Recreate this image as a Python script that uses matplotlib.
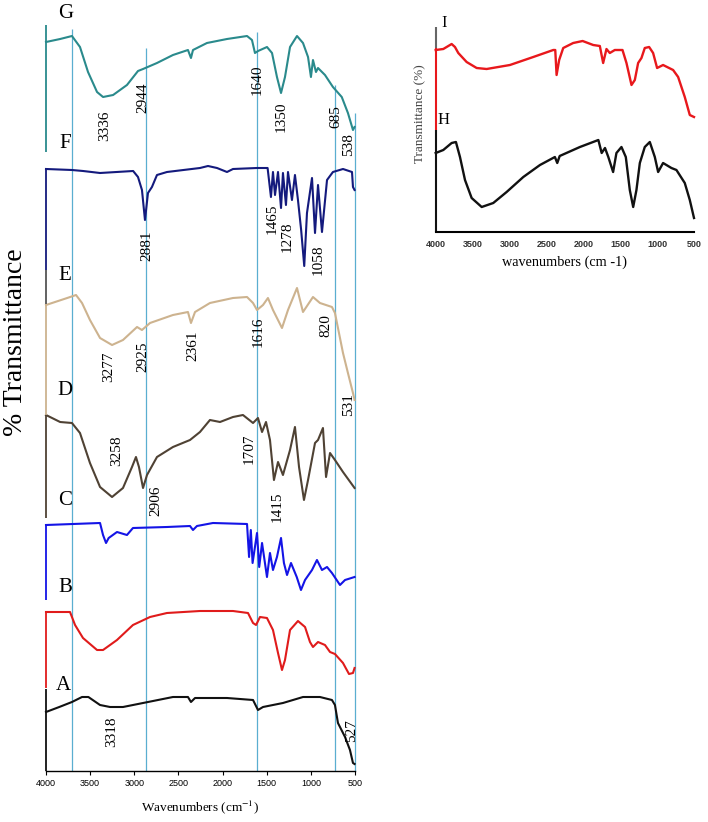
import matplotlib.pyplot as plt

plt.rcParams['mathtext.fontset'] = 'stix'
serif = 'Liberation Serif'
sans = 'Liberation Sans'

# ---- spectra A-G (wavenumber, relative transmittance) ----
w_G = [4000, 3840, 3706, 3615, 3524, 3422, 3354, 3240, 3083, 2958, 2901, 2743, 2562, 2392, 2358, 2335,
       2177, 1950, 1723, 1667, 1633, 1598, 1497, 1440, 1384, 1338, 1293, 1236, 1157, 1089, 1032, 999,
       976, 942, 919, 840, 750, 650, 580, 523, 505]
t_G = [110, 113, 116, 105, 80, 60, 55, 57, 67, 81, 83, 89, 97, 102, 94, 102,
       109, 113, 116, 112, 99, 101, 105, 99, 75, 59, 75, 105, 116, 109, 95, 75,
       92, 80, 84, 77, 65, 55, 39, 22, 25]

w_F = [4000, 3706, 3580, 3388, 3013, 2958, 2913, 2879, 2845, 2800, 2743, 2630, 2256, 2165, 2063, 1950,
       1882, 1610, 1490, 1452, 1429, 1406, 1372, 1338, 1316, 1282, 1259, 1214, 1180, 1146, 1110, 1075,
       1044, 987, 953, 919, 874, 817, 750, 636, 534, 523, 505]
t_F = [101, 100, 99, 97, 99, 93, 80, 50, 77, 83, 95, 98, 102, 104, 102, 98,
       101, 102, 102, 73, 98, 75, 98, 62, 97, 65, 98, 70, 95, 70, 40, 4,
       57, 92, 37, 85, 38, 90, 98, 101, 98, 83, 80]

w_E = [4000, 3760, 3660, 3592, 3502, 3388, 3252, 3128, 2969, 2913, 2822, 2562, 2392, 2358, 2312, 2143,
       1882, 1723, 1655, 1610, 1542, 1486, 1429, 1327, 1259, 1157, 1089, 976, 897, 761, 727, 636,
       580, 523, 505]
t_E = [105, 112, 115, 107, 90, 72, 65, 70, 83, 80, 87, 95, 98, 87, 98, 107,
       112, 113, 107, 100, 105, 112, 100, 82, 100, 122, 98, 113, 107, 103, 97, 57,
       37, 17, 10]

w_D = [4000, 3840, 3706, 3615, 3502, 3388, 3252, 3128, 3026, 2981, 2947, 2901, 2856, 2743, 2562, 2369,
       2256, 2143, 2029, 1882, 1769, 1655, 1599, 1553, 1508, 1463, 1418, 1372, 1316, 1236, 1180, 1134,
       1078, 1032, 953, 919, 863, 828, 783, 727, 636, 505]
t_D = [103, 96, 95, 85, 55, 31, 21, 30, 51, 61, 51, 30, 43, 61, 71, 78,
       86, 98, 96, 101, 103, 95, 100, 86, 96, 78, 38, 56, 43, 68, 91, 51,
       18, 38, 75, 78, 90, 41, 65, 58, 46, 30]

w_C = [4000, 3388, 3354, 3320, 3290, 3196, 3083, 3015, 2630, 2369, 2335, 2290, 2109, 1723, 1700, 1680,
       1660, 1610, 1585, 1553, 1497, 1463, 1429, 1384, 1338, 1305, 1270, 1225, 1160, 1112, 1066, 987,
       931, 874, 817, 761, 670, 613, 505]
t_C = [75, 77, 65, 57, 62, 68, 65, 72, 73, 74, 70, 74, 77, 76, 43, 70,
       37, 67, 33, 57, 23, 47, 30, 43, 62, 37, 25, 37, 23, 10, 20, 30,
       40, 30, 33, 27, 15, 20, 23]

w_B = [4000, 3728, 3671, 3581, 3422, 3354, 3196, 3015, 2822, 2630, 2256, 1882, 1712, 1655, 1621, 1576,
       1497, 1429, 1372, 1327, 1293, 1236, 1146, 1066, 1010, 976, 919, 840, 783, 727, 636, 568,
       523, 505]
t_B = [76, 76, 63, 50, 38, 38, 48, 63, 71, 75, 77, 77, 75, 65, 63, 71,
       70, 58, 35, 18, 28, 58, 67, 61, 46, 41, 46, 43, 36, 34, 25, 14,
       15, 20]

w_A = [4000, 3850, 3706, 3592, 3520, 3388, 3275, 3128, 2901, 2562, 2392, 2358, 2312, 2177, 1950, 1655,
       1599, 1542, 1316, 1089, 897, 761, 727, 693, 613, 557, 523, 505]
t_A = [59, 64, 69, 74, 74, 66, 64, 64, 68, 74, 74, 69, 73, 73, 73, 71,
       61, 64, 68, 74, 74, 71, 66, 48, 34, 21, 8, 7]

# ---- inset spectra H, I ----
w_I = [4000, 3897, 3784, 3739, 3694, 3581, 3445, 3310, 2994, 2678, 2407, 2380, 2362, 2327, 2272, 2137,
       2009, 1866, 1776, 1731, 1686, 1641, 1573, 1469, 1415, 1347, 1302, 1257, 1212, 1167, 1108, 1054,
       1000, 919, 783, 715, 625, 557, 500]
t_I = [80, 81, 86, 83, 77, 68, 62, 61, 65, 73, 80, 80, 55, 70, 82, 87,
       89, 85, 84, 67, 81, 77, 80, 80, 67, 45, 50, 67, 72, 82, 83, 77,
       62, 65, 60, 53, 33, 15, 13]

w_H = [4000, 3897, 3784, 3726, 3671, 3603, 3513, 3377, 3220, 3039, 2813, 2587, 2385, 2353, 2320, 2046,
       1796, 1751, 1706, 1661, 1596, 1551, 1483, 1424, 1370, 1324, 1280, 1234, 1167, 1099, 1031, 986,
       919, 806, 738, 625, 557, 500]
t_H = [79, 82, 89, 90, 75, 52, 34, 25, 29, 40, 55, 67, 75, 69, 76, 85,
       92, 79, 84, 75, 60, 79, 85, 75, 42, 25, 42, 69, 85, 90, 75, 60,
       69, 64, 62, 49, 32, 14]

names = ['G', 'F', 'E', 'D', 'C', 'B', 'A']
colors = ['#2a8a8c', '#141a7d', '#cdb38f', '#4f4234', '#1414e6', '#e01b1b', '#111111']
offsets = [619, 501, 361, 253, 171, 83, 0]
spectra = [(w_G, t_G), (w_F, t_F), (w_E, t_E), (w_D, t_D), (w_C, t_C), (w_B, t_B), (w_A, t_A)]

ref_lines = [3706, 2868, 1610, 727, 500]
ref_tops = [742, 723, 739, 686, 658]

peak_labels = [('3336', 3332, 645), ('2944', 2901, 673), ('1640', 1610, 691), ('1350', 1338, 654),
               ('685', 715, 654), ('538', 568, 626),
               ('2881', 2856, 525), ('1465', 1440, 552), ('1278', 1270, 534), ('1058', 919, 511),
               ('3277', 3287, 404), ('2925', 2901, 414), ('2361', 2335, 425), ('1616', 1599, 439),
               ('820', 829, 445), ('531', 568, 366),
               ('3258', 3196, 320), ('2906', 2754, 270), ('1707', 1701, 322), ('1415', 1384, 264),
               ('3318', 3252, 39), ('527', 534, 40)]

letter_pos = [(3773, 758), (3785, 628), (3785, 496), (3785, 381), (3785, 271), (3785, 184), (3807, 86)]

# left-spine pieces (colour, from, to)
spine_parts = [('#2a8a8c', 619, 746), ('#141a7d', 501, 603), ('#555555', 467, 501),
               ('#cdb38f', 356, 467), ('#4f4234', 253, 356), ('#1414e6', 171, 246),
               ('#e01b1b', 83, 159), ('#111111', 0, 82)]

fig = plt.figure(figsize=(7.08, 8.22), dpi=100)

ax = fig.add_axes([46 / 708, 51 / 822, 309 / 708, 746 / 822])
ax.set_xlim(4000, 500)
ax.set_ylim(0, 746)
for s in ['left', 'top', 'right']:
    ax.spines[s].set_visible(False)
ax.spines['bottom'].set_linewidth(1.0)
ax.set_yticks([])
ax.set_xticks(range(4000, 499, -500))
ax.tick_params(axis='x', length=3, width=0.8, pad=3, labelsize=6.5)
for lab in ax.get_xticklabels():
    lab.set_fontfamily(sans)

ax.vlines(ref_lines, 0, ref_tops, color='#5aaed0', lw=0.9, clip_on=False, zorder=1)
for c, lo, hi in spine_parts:
    ax.vlines(4000, lo, hi, color=c, lw=1.3, clip_on=False, zorder=3)

for (w, t), c, off in zip(spectra, colors, offsets):
    ax.plot(w, [v + off for v in t], color=c, lw=1.5, zorder=2, clip_on=False)

for txt, w, y in peak_labels:
    ax.text(w, y, txt, rotation=90, ha='center', va='center', fontsize=11,
            family=serif, zorder=4, clip_on=False)

for n, (w, y) in zip(names, letter_pos):
    ax.text(w, y, n, ha='center', va='center', fontsize=15, family=serif, clip_on=False)

fig.text(16 / 708, 1 - 342 / 822, '% Transmittance', rotation=90, ha='center', va='center',
         fontsize=20, family=serif)
fig.text(200 / 708, 1 - 807 / 822, 'Wavenumbers (cm$^{-1}$)', ha='center', va='center',
         fontsize=9.5, family=serif)

# ---- inset ----
ax2 = fig.add_axes([435.7 / 708, (822 - 232) / 822, 258.3 / 708, 205 / 822])
ax2.set_xlim(4000, 500)
ax2.set_ylim(0, 205)
for s in ['left', 'top', 'right']:
    ax2.spines[s].set_visible(False)
ax2.spines['bottom'].set_linewidth(1.5)
ax2.set_yticks([])
ax2.set_xticks(range(4000, 499, -500))
ax2.tick_params(axis='x', length=0, pad=6, labelsize=6.5)
for lab in ax2.get_xticklabels():
    lab.set_fontfamily(sans)
    lab.set_fontweight('bold')
    lab.set_color('#333333')

for c, lo, hi in [('#666666', 184, 205), ('#e8181c', 102, 184), ('#111111', 0, 102)]:
    ax2.vlines(4000, lo, hi, color=c, lw=1.5, clip_on=False)
ax2.plot(w_I, [v + 102 for v in t_I], color='#e8181c', lw=1.7, clip_on=False)
ax2.plot(w_H, t_H, color='#111111', lw=1.7, clip_on=False)
ax2.text(3888, 209, 'I', ha='center', va='center', fontsize=12, family=serif, clip_on=False)
ax2.text(3888, 112, 'H', ha='center', va='center', fontsize=12, family=serif, clip_on=False)

fig.text(420 / 708, 1 - 114 / 822, 'Transmittance (%)', rotation=90, ha='center', va='center',
         fontsize=9.5, family=serif, color='#444444')
fig.text(565 / 708, 1 - 262 / 822, 'wavenumbers (cm -1)', ha='center', va='center',
         fontsize=10.3, family=serif)

fig.savefig('out.png', dpi=100)
